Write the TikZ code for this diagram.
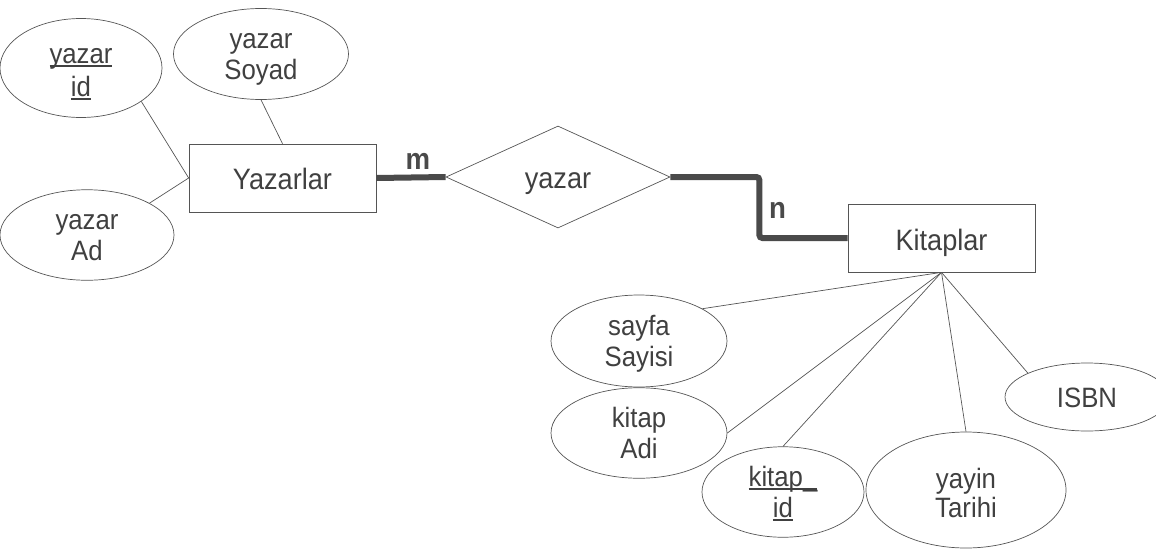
\documentclass[tikz,border=0pt]{standalone}
\usepackage{fontspec}
\setmainfont{Liberation Sans}[FakeStretch=0.92]
\usetikzlibrary{shapes.geometric}
\definecolor{txt}{HTML}{404040}
\definecolor{ln}{HTML}{555555}
\definecolor{thk}{HTML}{4A4A4A}
\newcommand\ulin[1]{\setbox0\hbox{#1}\rlap{\rule[-4pt]{\wd0}{1.8pt}}\box0}
\newcommand\twolines[4]{\rule{0pt}{#1}#3\\#4\rule[-#2]{0pt}{#2}}
\begin{document}
\begin{tikzpicture}[x=1pt,y=-1pt,
 attr/.style={ellipse, draw=ln, line width=0.7pt, inner sep=0pt, align=center, text=txt, font=\fontsize{28}{31}\selectfont},
 ent/.style={rectangle, draw=ln, line width=0.7pt, minimum width=187pt, minimum height=68pt, inner sep=0pt, text depth=0pt, text=txt, font=\fontsize{29.5}{32}\selectfont},
 rel/.style={diamond, draw=ln, line width=0.7pt, minimum width=224pt, minimum height=102pt, inner sep=0pt, text height=22pt, text depth=0pt, text=txt, font=\fontsize{29.5}{32}\selectfont},
 link/.style={draw=ln, line width=0.7pt},
 heavy/.style={draw=thk, line width=6pt},
 card/.style={text=thk, font=\fontsize{30}{32}\selectfont\bfseries, anchor=base}]
\useasboundingbox (0,0) rectangle (1156,549);
\node[attr, minimum width=162pt, minimum height=91pt, font=\fontsize{28}{33}\selectfont] (yid) at (81,68) {\twolines{30pt}{7pt}{\ulin{yazar}}{\ulin{id}}};
\node[attr, minimum width=175pt, minimum height=91pt] (ysoy) at (261,54) {\twolines{26pt}{7pt}{yazar}{Soyad}};
\node[attr, minimum width=174pt, minimum height=90pt] (yad) at (87,235) {\twolines{26pt}{7pt}{yazar}{Ad}};
\node[ent, text height=22pt] (yazarlar) at (282.5,178) {Yazarlar};
\node[rel] (yazar) at (558,177) {yazar};
\node[ent, text height=24pt] (kitaplar) at (941.5,238) {Kitaplar};
\node[attr, minimum width=176pt, minimum height=92pt] (sayfa) at (639,341) {\twolines{26pt}{7pt}{sayfa}{Sayisi}};
\node[attr, minimum width=176pt, minimum height=90pt] (kadi) at (639,433) {\twolines{26pt}{7pt}{kitap}{Adi}};
\node[attr, minimum width=162pt, minimum height=90pt] (kid) at (783,492) {\twolines{26pt}{7pt}{\ulin{kitap\_}}{\ulin{id}}};
\node[attr, minimum width=200pt, minimum height=116pt, font=\fontsize{28}{29}\selectfont] (yayin) at (966,490) {\twolines{32pt}{7pt}{yayin}{Tarihi}};
\node[attr, minimum width=164pt, minimum height=68pt, text height=21pt, text depth=0pt] (isbn) at (1087,397) {ISBN};
\draw[link] (yid.-29) -- (yazarlar.west);
\draw[link] (yad.27) -- (yazarlar.west);
\draw[link] (ysoy.south) -- (yazarlar.north);
\draw[heavy] (yazarlar.east) -- (yazar.west);
\draw[heavy, rounded corners=3pt] (yazar.east) -- ++(89,0) |- (kitaplar.west);
\draw[link] (sayfa.27) -- (kitaplar.south);
\draw[link] (kadi.east) -- (kitaplar.south);
\draw[link] (kid.north) -- (kitaplar.south);
\draw[link] (yayin.north) -- (kitaplar.south);
\draw[link] (isbn.158) -- (kitaplar.south);
\node[card] (m) at (418,169) {m};
\node[card] (n) at (777.5,218) {n};
\end{tikzpicture}
\end{document}
